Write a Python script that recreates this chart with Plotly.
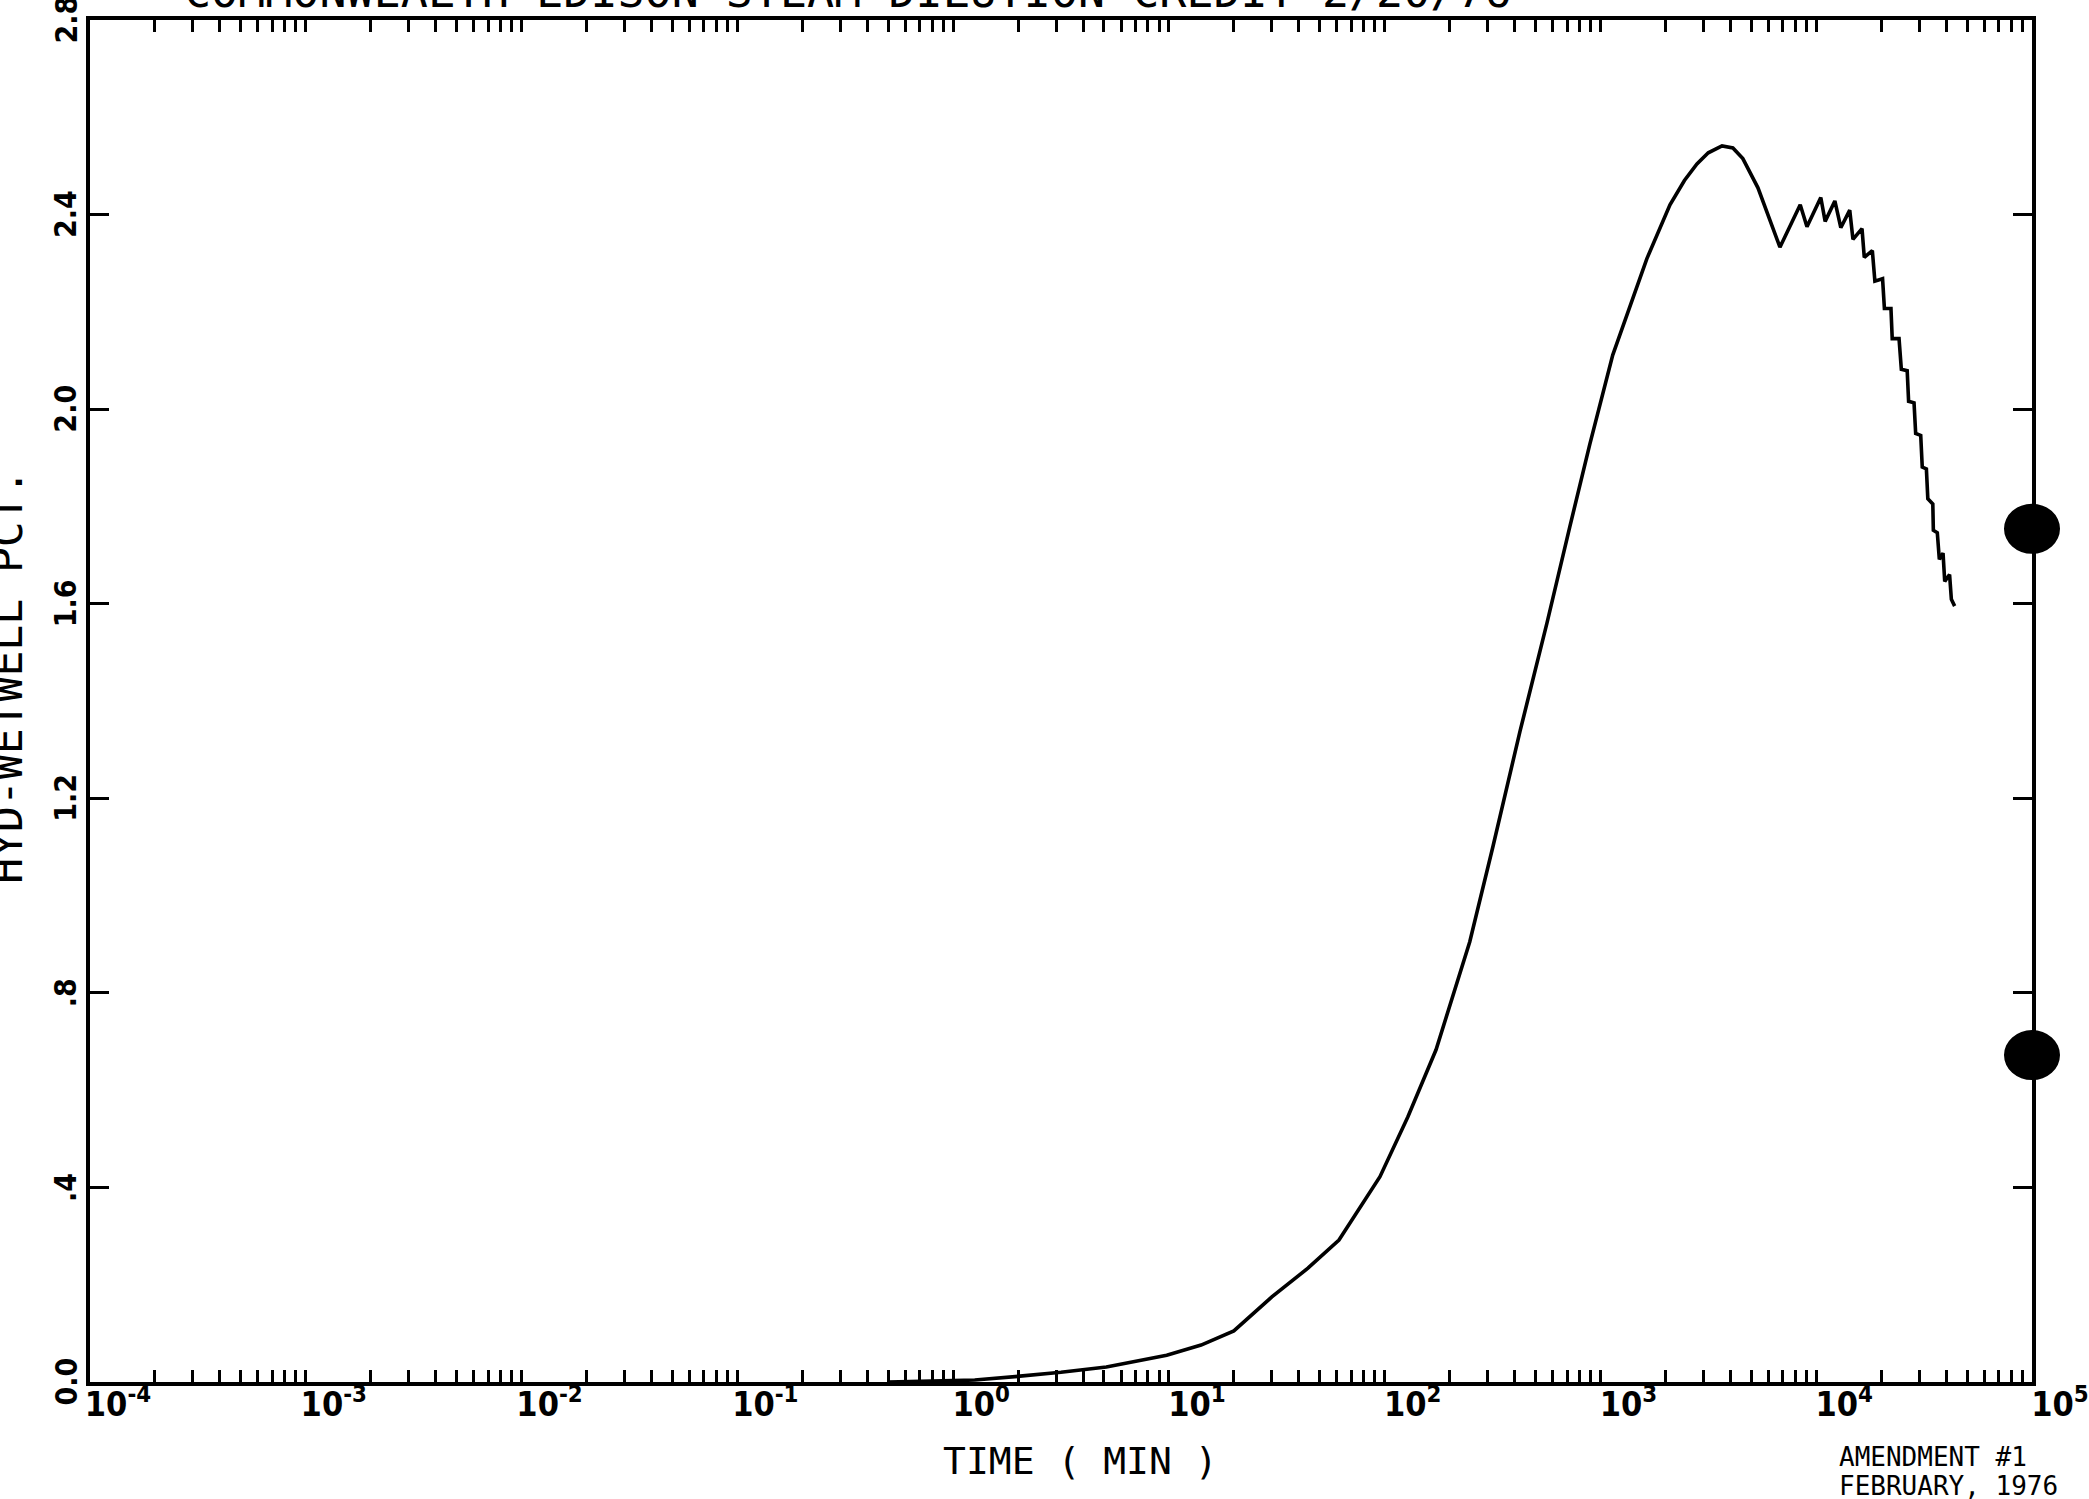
import plotly.graph_objects as go

# Hydrogen concentration in the wetwell vs. time after the accident
TIME_MIN = [
    0.5, 1.26, 2.04, 3.16, 5.13, 6.76, 9.77, 14.1, 20.0, 30.0,
    44.1, 61.4, 95.1, 128, 173, 248, 318, 424, 565, 721,
    893, 1140, 1640, 2100, 2450, 2800, 3160, 3660, 4110, 4570, 5370, 6790,
    8430, 9060, 10500, 11000, 12200, 13000, 14300, 14800, 16300, 16700,
    18200, 18700, 20300, 20700, 22200, 22500, 24200, 24800, 26400, 26800,
    28400, 28900, 30500, 31000, 32400, 32900, 34700, 34900, 36400, 37200,
    38700, 39400, 41500, 42300, 43800,
]
HYD_PCT = [
    0.000, 0.004, 0.012, 0.020, 0.031, 0.041, 0.055, 0.076, 0.105, 0.175,
    0.234, 0.292, 0.422, 0.545, 0.683, 0.905, 1.102, 1.338, 1.560, 1.758,
    1.928, 2.111, 2.309, 2.420, 2.470, 2.504, 2.527, 2.541, 2.537, 2.515, 2.455, 2.333,
    2.420, 2.375, 2.435, 2.386, 2.428, 2.373, 2.409, 2.349, 2.371, 2.312,
    2.326, 2.263, 2.268, 2.207, 2.207, 2.145, 2.145, 2.082, 2.079, 2.016,
    2.013, 1.950, 1.946, 1.881, 1.877, 1.816, 1.805, 1.751, 1.746, 1.691,
    1.704, 1.646, 1.660, 1.609, 1.595,
]

X_TICKS = [1e-4, 1e-3, 1e-2, 1e-1, 1e0, 1e1, 1e2, 1e3, 1e4, 1e5]
X_TICK_TEXT = ["10<sup>-4</sup>", "10<sup>-3</sup>", "10<sup>-2</sup>", "10<sup>-1</sup>",
               "10<sup>0</sup>", "10<sup>1</sup>", "10<sup>2</sup>", "10<sup>3</sup>",
               "10<sup>4</sup>", "10<sup>5</sup>"]
Y_TICKS = [0.0, 0.4, 0.8, 1.2, 1.6, 2.0, 2.4, 2.8]
Y_TICK_TEXT = ["0.0", ".4", ".8", "1.2", "1.6", "2.0", "2.4", "2.8"]

TITLE = "COMMONWEALTH EDISON STEAM DILUTION CREDIT 2/20/76"
X_TITLE = "TIME ( MIN )"
Y_TITLE = "HYD-WETWELL PCT."
NOTE_LINES = ["AMENDMENT #1", "FEBRUARY, 1976"]

MONO = "DejaVu Sans Mono, Liberation Mono, monospace"
NARROW = "Liberation Sans Narrow, DejaVu Sans Condensed, Liberation Sans, sans-serif"

fig = go.Figure(
    go.Scatter(
        x=TIME_MIN, y=HYD_PCT, mode="lines",
        line=dict(color="black", width=3.6),
        hoverinfo="skip",
    )
)

fig.update_layout(
    width=2089, height=1499,
    margin=dict(l=90, r=57, t=20, b=117, pad=0),
    paper_bgcolor="white", plot_bgcolor="white",
    showlegend=False,
)

fig.update_xaxes(
    type="log", range=[-4, 5], automargin=False,
    tickmode="array", tickvals=X_TICKS, ticktext=X_TICK_TEXT,
    ticks="inside", ticklen=12, tickwidth=3, tickcolor="black",
    tickfont=dict(family=NARROW, size=34, color="black", weight=700),
    ticklabelshift=28, ticklabelstandoff=-11,
    minor=dict(ticks="inside", ticklen=12, tickwidth=3, tickcolor="black",
               dtick="D1", showgrid=False),
    showline=True, linewidth=4, linecolor="black", mirror="allticks",
    showgrid=False, zeroline=False,
)

fig.update_yaxes(
    range=[0, 2.8], automargin=False,
    tickmode="array", tickvals=Y_TICKS, showticklabels=False,
    ticks="inside", ticklen=19, tickwidth=3, tickcolor="black",
    showline=True, linewidth=4, linecolor="black", mirror="ticks",
    showgrid=False, zeroline=False,
)

annotations = [
    dict(text=TITLE, xref="paper", yref="paper", x=0, y=1,
         xanchor="left", yanchor="bottom", xshift=92, yshift=0,
         showarrow=False, font=dict(family=MONO, size=45, color="black")),
    dict(text=X_TITLE, xref="paper", yref="paper", x=(1080 - 90) / 1942, y=0,
         xanchor="center", yanchor="top", yshift=-55,
         showarrow=False, font=dict(family=MONO, size=38, color="black")),
    dict(text=Y_TITLE, xref="paper", yref="y", x=0, y=1.45,
         xanchor="right", yanchor="middle", xshift=-56, textangle=-90,
         showarrow=False, font=dict(family=MONO, size=43, color="black")),
    dict(text=NOTE_LINES[0], xref="paper", yref="paper", x=1, y=0,
         xanchor="left", yanchor="top", xshift=-195, yshift=-58, align="left",
         showarrow=False, font=dict(family=MONO, size=26, color="black")),
    dict(text=NOTE_LINES[1], xref="paper", yref="paper", x=1, y=0,
         xanchor="left", yanchor="top", xshift=-195, yshift=-87, align="left",
         showarrow=False, font=dict(family=MONO, size=26, color="black")),
]

# rotated value labels along the left frame
for val, txt in zip(Y_TICKS, Y_TICK_TEXT):
    annotations.append(dict(
        text=txt, xref="paper", yref="y", x=0, y=val,
        xanchor="right", yanchor="middle", xshift=-5, textangle=-90,
        showarrow=False, font=dict(family=NARROW, size=30, color="black", weight=700),
    ))

fig.update_layout(annotations=annotations)

# binder-hole shadows on the right frame
for yc in (1.754, 0.672):
    fig.add_shape(
        type="circle", xref="paper", yref="y",
        xsizemode="pixel", ysizemode="pixel", xanchor=1, yanchor=yc,
        x0=-28, x1=28, y0=-25, y1=25,
        fillcolor="black", line=dict(width=0), layer="above",
    )

fig.write_html("out.html")
